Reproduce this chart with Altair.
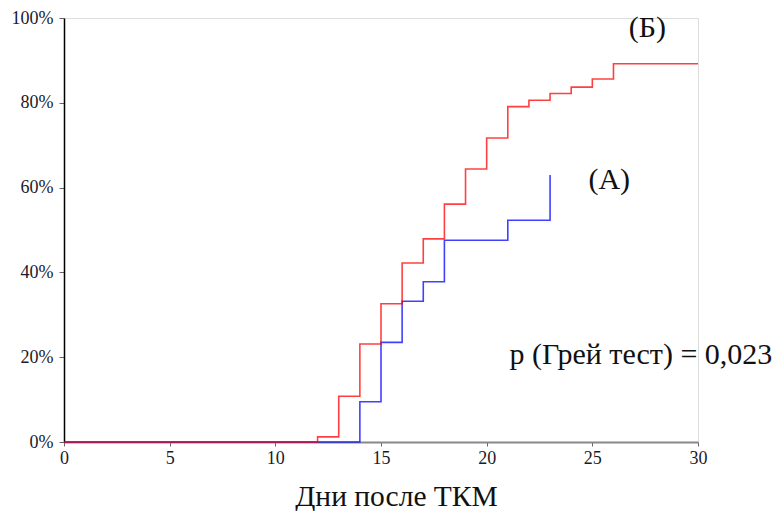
import altair as alt
import pandas as pd

# Series A (blue)
a_days = [0, 14, 15, 16, 17, 18, 21, 23]
a_vals = [0, 9.5, 23.5, 33.2, 37.8, 47.6, 52.3, 63.0]
# Series Б (red)
b_days = [0, 12, 13, 14, 15, 16, 17, 18, 19, 20, 21, 22, 23, 24, 25, 26, 30]
b_vals = [0, 1.2, 10.8, 23.1, 32.6, 42.2, 47.9, 56.1, 64.4, 71.7, 79.1, 80.6, 82.2, 83.7, 85.6, 89.2, 89.2]

x_ticks = [0, 5, 10, 15, 20, 25, 30]
y_ticks = [0, 20, 40, 60, 80, 100]

labels_txt = ["(Б)", "(А)", "p (Грей тест) = 0,023"]
labels_x = [27.6, 25.8, 27.3]
labels_y = [97.6, 61.8, 20.6]

df = pd.concat([
    pd.DataFrame({"day": a_days, "val": a_vals, "grp": "A"}),
    pd.DataFrame({"day": b_days, "val": b_vals, "grp": "B"}),
])
lab = pd.DataFrame({"t": labels_txt, "x": labels_x, "y": labels_y})

FONT = "Liberation Serif"
LBL = 18

x = alt.X("day:Q", scale=alt.Scale(domain=[0, 30], nice=False),
          axis=alt.Axis(values=x_ticks, title="Дни после ТКМ", grid=False,
                        domainColor="#888888", domainWidth=2, tickColor="#666666",
                        tickSize=4, labelPadding=3, labelFlush=False,
                        labelFont=FONT, labelFontSize=LBL, labelColor="#1a1a2a",
                        titleX=332, titleY=54, titleAlign="center", titleBaseline="middle"))
y = alt.Y("val:Q", scale=alt.Scale(domain=[0, 100], nice=False),
          axis=alt.Axis(values=y_ticks, title=None, grid=False,
                        labelExpr="datum.value + '%'", domainColor="#000000",
                        domainWidth=1.5, tickColor="#666666", tickSize=5,
                        labelPadding=6, labelFont=FONT, labelFontSize=LBL,
                        labelColor="#1a1a2a"))

lines = alt.Chart(df).mark_line(interpolate="step-after", strokeWidth=1.6, opacity=0.75).encode(
    x=x, y=y,
    color=alt.Color("grp:N", scale=alt.Scale(domain=["A", "B"], range=["#0000ff", "#ff0000"]), legend=None),
    order=alt.Order("grp:N"),
    detail="grp:N",
)

texts = alt.Chart(lab).mark_text(font=FONT, fontSize=30, color="#111111", align="center", baseline="middle").encode(
    x=alt.X("x:Q"), y=alt.Y("y:Q"), text="t:N")

chart = alt.layer(lines, texts).properties(
    width=634, height=424,
    autosize=alt.AutoSizeParams(type="none"),
    padding={"left": 56, "top": 10, "right": 75, "bottom": 69},
).configure_view(stroke=None).configure(background="white").configure_axis(
    labelFont=FONT, labelFontSize=LBL, labelColor="#1a1a2a",
    titleFont=FONT, titleFontSize=29.5, titleFontWeight="normal", titleColor="#111111",
)

chart.save("out.html", embed_options={"renderer": "svg", "actions": False})
